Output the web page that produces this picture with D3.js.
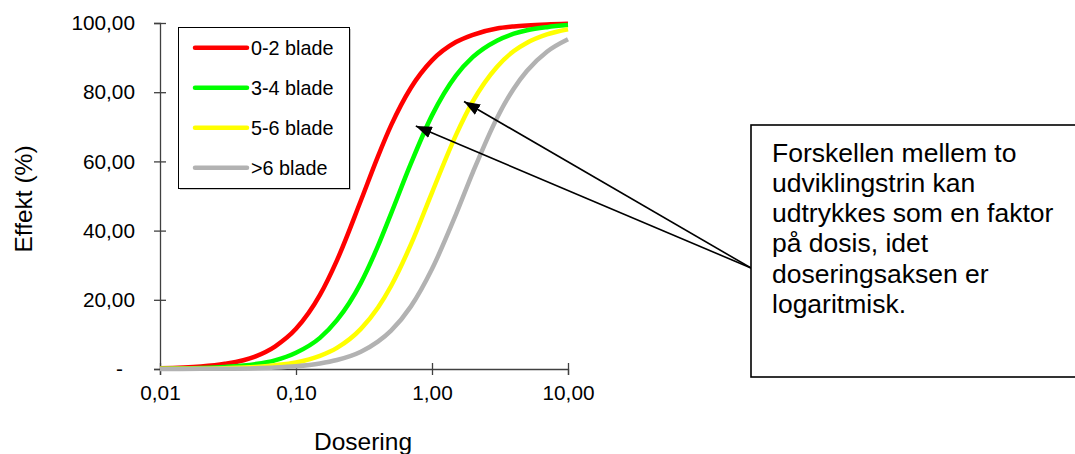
<!DOCTYPE html>
<html>
<head>
<meta charset="utf-8">
<script src="https://cdn.jsdelivr.net/npm/d3@7"></script>
<style>
  body { margin: 0; background: #fff; }
  text { font-family: "Liberation Sans", Arial, sans-serif; fill: #000; }
</style>
</head>
<body>
<svg class="chart" width="1075" height="454"></svg>
<script>
// doses read along the log axis
const doses = [0.01, 0.02, 0.03, 0.05, 0.07, 0.1, 0.15, 0.2, 0.3, 0.4, 0.5, 0.7, 1, 1.5, 2, 3, 4, 5, 7, 10]

// effect (%)
const blade02 = [0.2, 0.7, 1.5, 3.6, 6.5, 11.6, 21.4, 31.4, 48.7, 61.4, 70.4, 81.3, 89.2, 94.5, 96.6, 98.4, 99.0, 99.3, 99.6, 99.8]
const blade34 = [0.1, 0.3, 0.6, 1.4, 2.5, 4.7, 9.0, 14.1, 24.9, 35.5, 44.9, 59.4, 73.3, 84.8, 90.2, 94.9, 96.9, 97.9, 98.8, 99.4]
const blade56 = [0.04, 0.1, 0.25, 0.6, 1.1, 1.9, 3.8, 6.1, 11.6, 17.7, 24.0, 36.0, 51.0, 67.6, 77.4, 87.3, 91.9, 94.3, 96.7, 98.2]
const blade6plus = [0.02, 0.05, 0.1, 0.25, 0.44, 0.8, 1.6, 2.6, 5.0, 7.9, 11.1, 18.1, 28.9, 44.7, 56.9, 72.5, 81.1, 86.2, 91.7, 95.3]

const seriesNames = ["0-2 blade", "3-4 blade", "5-6 blade", ">6 blade"]
const seriesColors = ["#ff0000", "#00ff00", "#ffff00", "#b2b2b2"]
const allSeries = [blade02, blade34, blade56, blade6plus]

const xTicks = [0.01, 0.1, 1, 10]
const yTicks = [0, 20, 40, 60, 80, 100]

const noteLines = ["Forskellen mellem to", "udviklingstrin kan", "udtrykkes som en faktor",
  "på dosis, idet", "doseringsaksen er", "logaritmisk."]
// arrow tips [dose, effect]
const arrowTips = [[0.76, 70.2], [1.72, 77.3]]

const svg = d3.select("svg.chart")

const x = d3.scaleLog()
  .domain([0.01, 10])
  .range([160, 568])

const y = d3.scaleLinear()
  .domain([0, 100])
  .range([369, 23])

const comma = d => d3.format(".2f")(d).replace(".", ",")

// y axis
const yAxis = svg.append("g")
  .attr("transform", "translate(160,0)")
  .call(d3.axisLeft(y).tickValues(yTicks).tickSize(6).tickPadding(19)
    .tickFormat(d => d === 0 ? "-" : comma(d)))
yAxis.select(".domain").attr("stroke", "#404040").attr("stroke-width", 1.3)
yAxis.selectAll(".tick line").attr("x1", 6).attr("x2", -6).attr("stroke", "#404040").attr("stroke-width", 1.3)
yAxis.selectAll(".tick text")
  .style("font-size", "20.8px")
  .attr("font-family", null)
  .filter(d => d === 0).attr("x", -37)

// x axis
const xAxis = svg.append("g")
  .attr("transform", "translate(0,369)")
  .call(d3.axisBottom(x).tickValues(xTicks).tickSize(6).tickPadding(10)
    .tickFormat(comma))
xAxis.select(".domain").attr("stroke", "#404040").attr("stroke-width", 1.3)
xAxis.selectAll(".tick line").attr("y1", -6).attr("y2", 6).attr("stroke", "#404040").attr("stroke-width", 1.3)
xAxis.selectAll(".tick text").style("font-size", "20.8px").attr("font-family", null)

// axis titles
svg.append("text")
  .attr("transform", "translate(32,199) rotate(-90)")
  .attr("text-anchor", "middle")
  .style("font-size", "24.5px")
  .text("Effekt (%)")

svg.append("text")
  .attr("x", 363)
  .attr("y", 450)
  .attr("text-anchor", "middle")
  .style("font-size", "24.5px")
  .text("Dosering")

// curves
const line = d3.line()
  .x((d, i) => x(doses[i]))
  .y(d => y(d))
  .curve(d3.curveMonotoneX)

svg.selectAll("path.curve")
  .data(allSeries)
  .enter()
  .append("path")
  .attr("class", "curve")
  .attr("fill", "none")
  .attr("stroke", (d, i) => seriesColors[i])
  .attr("stroke-width", 4.5)
  .attr("d", line)

// legend
const legend = svg.append("g")
legend.append("rect")
  .attr("x", 180).attr("y", 29).attr("width", 171).attr("height", 161)
  .attr("fill", "#c8c8c8")
legend.append("rect")
  .attr("x", 178.5).attr("y", 27.5).attr("width", 171).attr("height", 161)
  .attr("fill", "#fff").attr("stroke", "#000").attr("stroke-width", 1)

const legendRows = legend.selectAll("g.row")
  .data(seriesNames)
  .enter()
  .append("g")
  .attr("class", "row")
  .attr("transform", (d, i) => `translate(0,${47.7 + i * 40})`)

legendRows.append("line")
  .attr("x1", 195).attr("x2", 247)
  .attr("stroke", (d, i) => seriesColors[i])
  .attr("stroke-width", 4.5)
  .attr("stroke-linecap", "round")

legendRows.append("text")
  .attr("x", 251)
  .attr("dy", "0.35em")
  .style("font-size", "19.8px")
  .text(d => d)

// annotation box and arrows
const defs = svg.append("defs")
defs.append("marker")
  .attr("id", "head")
  .attr("viewBox", "0 0 16 12")
  .attr("refX", 16).attr("refY", 6)
  .attr("markerWidth", 16).attr("markerHeight", 12)
  .attr("markerUnits", "userSpaceOnUse")
  .attr("orient", "auto")
  .append("path")
  .attr("d", "M0,0L16,6L0,12Z")
  .attr("fill", "#000")

svg.selectAll("line.arrow")
  .data(arrowTips)
  .enter()
  .append("line")
  .attr("class", "arrow")
  .attr("x1", 751).attr("y1", 268)
  .attr("x2", d => x(d[0])).attr("y2", d => y(d[1]))
  .attr("stroke", "#000")
  .attr("stroke-width", 1.6)
  .attr("marker-end", "url(#head)")

svg.append("rect")
  .attr("x", 751).attr("y", 125).attr("width", 340).attr("height", 252)
  .attr("fill", "#fff").attr("stroke", "#000").attr("stroke-width", 1.6)

svg.append("g").selectAll("text")
  .data(noteLines)
  .enter()
  .append("text")
  .attr("x", 772)
  .attr("y", (d, i) => 161.7 + i * 30.2)
  .style("font-size", "26.5px")
  .text(d => d)
</script>
</body>
</html>
